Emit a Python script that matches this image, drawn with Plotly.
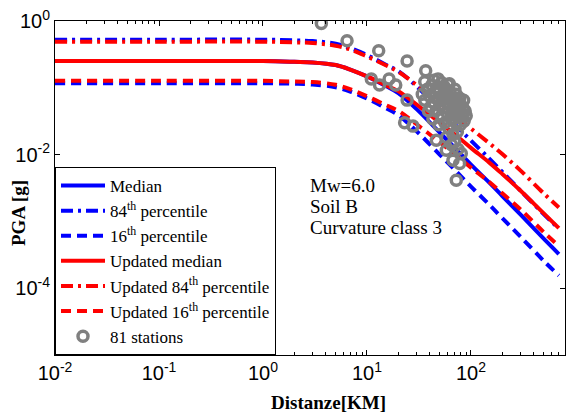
import plotly.graph_objects as go

# Distance grid (km) for the attenuation curves
distance_km = [0.01, 0.1, 1, 2, 3, 5, 7, 10, 15, 20, 30, 50, 70, 100, 150, 200, 300, 500, 700]

# Original GMPE (blue), PGA in g
median = [0.251, 0.251, 0.251, 0.245, 0.240, 0.219, 0.186, 0.148, 0.107, 0.0832, 0.0479, 0.0214,
          0.0126, 0.00708, 0.0038, 0.0024, 0.00126, 0.00055, 0.000324]
p84 = [0.525, 0.525, 0.525, 0.513, 0.501, 0.457, 0.389, 0.309, 0.224, 0.178, 0.105, 0.0479,
       0.0282, 0.0162, 0.00871, 0.0055, 0.00288, 0.00129, 0.000776]
p16 = [0.117, 0.117, 0.117, 0.115, 0.112, 0.102, 0.0871, 0.0692, 0.0501, 0.0389, 0.0224, 0.0100,
       0.00589, 0.00331, 0.00178, 0.00112, 0.000589, 0.000257, 0.000155]

# Updated GMPE (red)
upd_median = [0.251, 0.251, 0.251, 0.245, 0.240, 0.219, 0.186, 0.148, 0.110, 0.0891, 0.0562, 0.0302,
              0.0200, 0.0126, 0.00759, 0.00513, 0.00288, 0.00132, 0.000794]
upd_p84 = [0.490, 0.490, 0.490, 0.479, 0.468, 0.427, 0.372, 0.295, 0.219, 0.174, 0.110, 0.0589,
           0.0389, 0.0245, 0.0148, 0.0102, 0.00575, 0.00263, 0.00162]
upd_p16 = [0.127, 0.127, 0.127, 0.124, 0.122, 0.111, 0.0944, 0.0750, 0.0556, 0.0452, 0.0285, 0.0153,
           0.0101, 0.00638, 0.00389, 0.00263, 0.00151, 0.000692, 0.000427]

# Recorded stations (distance km, PGA g)
station_dist = [3.64, 6.43, 12.96, 24.3, 36.7, 11.0, 13.2, 16.3, 18.9, 48.2, 60.1, 35.9, 24.3, 23.0,
                27.7, 46.4, 57.9, 69.7, 67.1, 77.8, 80.7, 72.2,
                38, 40, 42, 44, 45, 46, 47, 48, 50, 50, 52, 52, 53, 54, 55, 56, 57, 58, 59, 60,
                61, 62, 63, 64, 65, 66, 67, 68, 69, 70, 71, 72, 73, 74, 75, 76, 77, 78, 79, 80,
                82, 84, 86, 88, 90, 43, 41, 36, 39, 49, 58, 65, 75, 44, 55, 62, 70, 85, 34]
station_pga = [0.92, 0.507, 0.359, 0.251, 0.180, 0.135, 0.110, 0.135, 0.110, 0.136, 0.112, 0.123,
               0.0654, 0.0299, 0.0267, 0.0164, 0.0116, 0.0155, 0.00824, 0.00736, 0.0104, 0.00413,
               0.095, 0.075, 0.11, 0.06, 0.085, 0.045, 0.10, 0.07, 0.055, 0.09, 0.038, 0.12, 0.065,
               0.08, 0.05, 0.03, 0.095, 0.06, 0.042, 0.075, 0.025, 0.055, 0.088, 0.035, 0.065, 0.048,
               0.02, 0.07, 0.04, 0.058, 0.03, 0.08, 0.05, 0.022, 0.062, 0.036, 0.045, 0.07, 0.028,
               0.055, 0.04, 0.05, 0.032, 0.045, 0.038, 0.034, 0.052, 0.065, 0.045, 0.028, 0.018,
               0.014, 0.012, 0.13, 0.105, 0.115, 0.095, 0.065, 0.08]

x_tickvals = [0.01, 0.1, 1, 10, 100]
x_ticktext = ["10<sup>-2</sup>", "10<sup>-1</sup>", "10<sup>0</sup>", "10<sup>1</sup>", "10<sup>2</sup>"]
y_tickvals = [1e-4, 1e-2, 1]
y_ticktext = ["10<sup>-4</sup>", "10<sup>-2</sup>", "10<sup>0</sup>"]
x_minor = [m * 10.0 ** e for e in range(-2, 3) for m in range(2, 10)]

BLUE = "#0000FF"
RED = "#FF0000"
DASH = "10px,6px"
DASHDOT = "12px,5px,3px,5px"
LW = 4

fig = go.Figure()
traces = [
    ("Median", median, BLUE, "solid"),
    ("84<sup>th</sup> percentile", p84, BLUE, DASHDOT),
    ("16<sup>th</sup> percentile", p16, BLUE, DASH),
    ("Updated median", upd_median, RED, "solid"),
    ("Updated 84<sup>th</sup> percentile", upd_p84, RED, DASHDOT),
    ("Updated 16<sup>th</sup> percentile", upd_p16, RED, DASH),
]
for name, ys, col, dash in traces:
    fig.add_trace(go.Scatter(x=distance_km, y=ys, mode="lines", name=name,
                             line=dict(color=col, width=LW, dash=dash, shape="spline")))

fig.add_trace(go.Scatter(x=station_dist, y=station_pga, mode="markers", name="81 stations",
                         marker=dict(symbol="circle-open", size=10, color="#808080",
                                     line=dict(width=3.5, color="#808080"))))

axis_common = dict(showline=True, linecolor="black", linewidth=1, mirror="ticks",
                   ticks="inside", ticklen=5, tickcolor="black", showgrid=False, zeroline=False,
                   tickfont=dict(family="Liberation Sans, Arial", size=20, color="black"))

fig.update_xaxes(type="log", range=[-2, 2.904], tickmode="array", tickvals=x_tickvals,
                 ticktext=x_ticktext,
                 minor=dict(ticks="inside", ticklen=3, tickcolor="black", tickmode="array",
                            tickvals=x_minor, showgrid=False),
                 **axis_common)
fig.update_yaxes(type="log", range=[-5, 0], tickmode="array", tickvals=y_tickvals,
                 ticktext=y_ticktext, **axis_common)

def px(xp):
    return (xp - 55) / 510.0

def py(yp):
    return 1 - (yp - 21) / 334.0

serif = "Liberation Serif, Times New Roman"
annotations = [
    dict(text="<b>PGA [g]</b>", x=px(18), y=py(213), textangle=-90, font=dict(size=19)),
    dict(text="<b>Distanze[KM]</b>", x=px(328), y=py(402), font=dict(size=19)),
    dict(text="Mw=6.0", x=px(308), y=py(185), xanchor="left", font=dict(size=19)),
    dict(text="Soil B", x=px(308), y=py(207), xanchor="left", font=dict(size=19)),
    dict(text="Curvature class 3", x=px(308), y=py(228), xanchor="left", font=dict(size=19)),
]
for a in annotations:
    a.setdefault("xanchor", "center")
    a.update(xref="paper", yref="paper", showarrow=False, yanchor="middle")
    a["font"].update(family=serif, color="black")
fig.update_layout(annotations=annotations)

fig.update_layout(
    width=566, height=412,
    margin=dict(l=55, r=1, t=21, b=57),
    paper_bgcolor="white", plot_bgcolor="white",
    showlegend=True,
    legend=dict(x=0, y=0, xanchor="left", yanchor="bottom", bgcolor="white",
                bordercolor="black", borderwidth=1, itemwidth=44,
                font=dict(family=serif, size=17, color="black"), tracegroupgap=0),
)

fig.write_html("out.html")
